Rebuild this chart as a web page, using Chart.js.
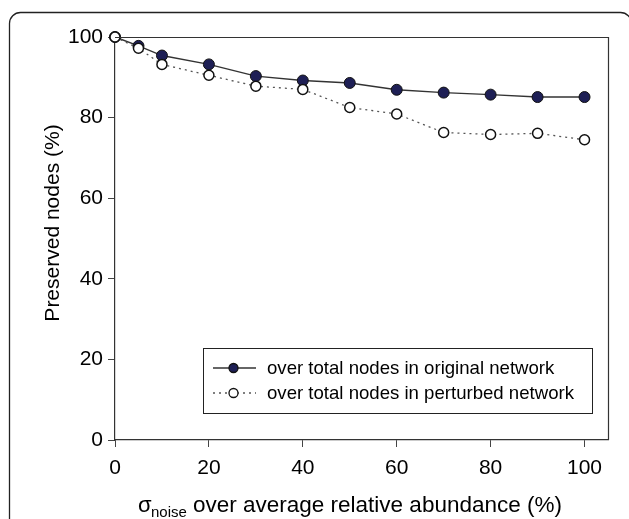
<!DOCTYPE html>
<html>
<head>
<meta charset="utf-8">
<script src="https://cdn.jsdelivr.net/npm/chart.js@4.4.1/dist/chart.umd.min.js"></script>
<style>
  html, body { margin: 0; padding: 0; background: #fff; }
  #wrap { width: 629px; height: 519px; }
</style>
</head>
<body>
<div id="wrap"><canvas id="myLineChart" width="629" height="519"></canvas></div>
<script>
const noiseLevels = [0, 5, 10, 20, 30, 40, 50, 60, 70, 80, 90, 100];
const originalNodes = [100, 97.8, 95.4, 93.2, 90.3, 89.2, 88.6, 86.9, 86.2, 85.7, 85.1, 85.1];
const perturbedNodes = [100, 97.2, 93.2, 90.5, 87.8, 87.0, 82.5, 80.9, 76.3, 75.8, 76.1, 74.5];
const xTicks = [0, 20, 40, 60, 80, 100];
const seriesLabels = ['over total nodes in original network', 'over total nodes in perturbed network'];

const FONT = '"Liberation Sans", Arial, sans-serif';

const toPoints = (xs, ys) => xs.map((x, i) => ({ x: x, y: ys[i] }));

// frame, outer rounded border, axis titles and legend box
const decorations = {
  id: 'decorations',
  beforeDraw(chart) {
    const ctx = chart.ctx;
    ctx.save();
    ctx.strokeStyle = '#222';
    ctx.lineWidth = 1.3;
    ctx.beginPath();
    ctx.roundRect(9.5, 12.5, 622, 540, 11);
    ctx.stroke();
    ctx.restore();
  },
  afterDatasetsDraw(chart) {
    const ctx = chart.ctx;
    const a = chart.chartArea;
    ctx.save();
    // top and right sides of plot box
    ctx.strokeStyle = '#333';
    ctx.lineWidth = 1.2;
    ctx.beginPath();
    ctx.moveTo(a.left, a.top + 0.5);
    ctx.lineTo(a.right + 0.5, a.top + 0.5);
    ctx.lineTo(a.right + 0.5, a.bottom);
    ctx.stroke();

    // y title
    ctx.fillStyle = '#000';
    ctx.font = '21px ' + FONT;
    ctx.textAlign = 'center';
    ctx.textBaseline = 'alphabetic';
    ctx.translate(59, 223);
    ctx.rotate(-Math.PI / 2);
    ctx.fillText('Preserved nodes (%)', 0, 0);
    ctx.setTransform(1, 0, 0, 1, 0, 0);

    // x title with subscript
    ctx.textAlign = 'left';
    ctx.font = '22px ' + FONT;
    ctx.fillText('\u03C3', 138, 512);
    ctx.font = '15px ' + FONT;
    ctx.fillText('noise', 151, 517);
    ctx.font = '22.5px ' + FONT;
    ctx.fillText('over average relative abundance (%)', 193, 512);

    // legend
    const lx = 203, ly = 348, lw = 389, lh = 65;
    ctx.strokeStyle = '#222';
    ctx.lineWidth = 1;
    ctx.strokeRect(lx + 0.5, ly + 0.5, lw, lh);
    const rows = [368, 393];
    chart.data.datasets.forEach((ds, i) => {
      const y = rows[i];
      ctx.strokeStyle = ds.borderColor;
      ctx.lineWidth = 1.3;
      ctx.setLineDash(ds.borderDash || []);
      ctx.beginPath();
      ctx.moveTo(213, y);
      ctx.lineTo(256, y);
      ctx.stroke();
      ctx.setLineDash([]);
      ctx.beginPath();
      ctx.arc(233.5, y, 4.5, 0, Math.PI * 2);
      ctx.fillStyle = ds.pointBackgroundColor;
      ctx.fill();
      ctx.strokeStyle = ds.pointBorderColor;
      ctx.lineWidth = 1.3;
      ctx.stroke();
      ctx.fillStyle = '#000';
      ctx.font = '18.6px ' + FONT;
      ctx.textBaseline = 'middle';
      ctx.fillText(ds.label, 267, y + 1);
    });
    ctx.restore();
  }
};

const config = {
  type: 'line',
  data: {
    datasets: [
      {
        label: seriesLabels[0],
        data: toPoints(noiseLevels, originalNodes),
        borderColor: '#333',
        borderWidth: 1.4,
        pointBackgroundColor: '#1e1f55',
        pointBorderColor: '#111',
        pointBorderWidth: 1,
        pointRadius: 5.5,
        clip: false,
        order: 2
      },
      {
        label: seriesLabels[1],
        data: toPoints(noiseLevels, perturbedNodes),
        borderColor: '#555',
        borderWidth: 1.3,
        borderDash: [2, 4],
        pointBackgroundColor: '#fff',
        pointBorderColor: '#111',
        pointBorderWidth: 1.5,
        pointRadius: 5,
        clip: false,
        order: 1
      }
    ]
  },
  options: {
    responsive: false,
    animation: false,
    layout: { padding: { top: 37, right: 21, left: 0, bottom: 0 } },
    plugins: { legend: { display: false }, tooltip: { enabled: false } },
    scales: {
      x: {
        type: 'linear',
        min: 0,
        max: 105,
        afterBuildTicks: (scale) => { scale.ticks = xTicks.map(v => ({ value: v })); },
        afterFit: (scale) => { scale.height = 79; },
        ticks: { color: '#000', font: { family: FONT, size: 21 }, padding: 9, maxRotation: 0 },
        grid: { drawOnChartArea: false, drawTicks: true, tickLength: 7, color: '#444' },
        border: { display: true, color: '#333', width: 1.2 }
      },
      y: {
        min: 0,
        max: 100,
        afterFit: (scale) => { scale.width = 115; },
        ticks: { stepSize: 20, color: '#000', font: { family: FONT, size: 21 }, padding: 5 },
        grid: { drawOnChartArea: false, drawTicks: true, tickLength: 7, color: '#444' },
        border: { display: true, color: '#333', width: 1.2 }
      }
    }
  },
  plugins: [decorations]
};

const myLineChart = new Chart(document.getElementById('myLineChart'), config);
</script>
</body>
</html>
